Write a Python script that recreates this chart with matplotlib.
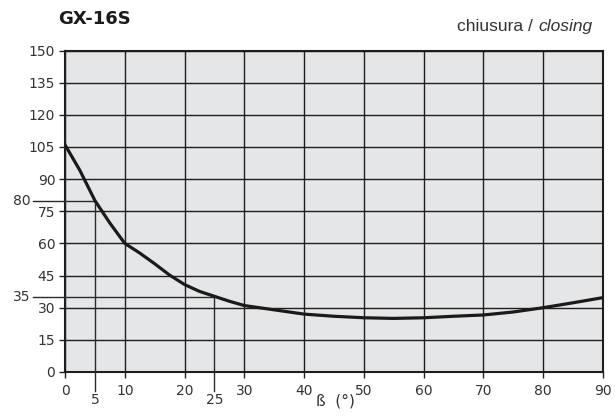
import matplotlib
matplotlib.use("Agg")
import matplotlib.pyplot as plt
from matplotlib import font_manager

# closing torque curve for GX-16S
beta = [0, 2.5, 5, 7.5, 10, 12.5, 15, 17.5, 20, 22.5, 25, 27.5, 30, 35, 40, 45,
        50, 55, 60, 65, 70, 75, 80, 85, 90]
torque = [106, 94, 80, 69.5, 60, 55.5, 50.5, 45.2, 40.8, 37.6, 35.3, 33, 31, 29, 27, 26,
          25.3, 25, 25.3, 26, 26.6, 28, 30, 32.3, 34.7]

# marked working points
ref_beta = [5, 25]
ref_torque = [80, 35]

x_ticks = list(range(0, 91, 10))
y_ticks = list(range(0, 151, 15))

names = {f.name for f in font_manager.fontManager.ttflist}
narrow = "Liberation Sans Narrow" if "Liberation Sans Narrow" in names else "Liberation Sans"

fig = plt.figure(figsize=(6.15, 4.16), dpi=100)
ax = fig.add_axes([0.1057, 0.1058, 0.8748, 0.7728])

ax.set_facecolor("#e5e6e8")
ax.set_xlim(0, 90)
ax.set_ylim(0, 150)
ax.set_xticks(x_ticks)
ax.set_yticks(y_ticks)
ax.grid(True, color="#1e1e1e", linewidth=1.0)
ax.set_axisbelow(True)
ax.tick_params(axis="both", colors="#222222", labelcolor="#333333",
               labelsize=10, length=4, width=1.0)
ax.tick_params(axis="x", pad=5)
ax.tick_params(axis="y", pad=3)
for s in ax.spines.values():
    s.set_linewidth(1.5)
    s.set_color("#1e1e1e")

# reference lines for the working points, running out past the axes
for bx, ty in zip(ref_beta, ref_torque):
    ax.plot([-5.4, bx], [ty, ty], color="#2a2a2a", lw=1.0, clip_on=False, zorder=3)
    ax.plot([bx, bx], [ty, -8.8], color="#2a2a2a", lw=1.0, clip_on=False, zorder=3)
    ax.text(bx, -9.6, str(bx), ha="center", va="top", fontsize=10, color="#333333")
    ax.text(-5.8, ty, str(ty), ha="right", va="center", fontsize=10, color="#333333")

ax.plot(beta, torque, color="#1a1a1a", lw=2.3, zorder=4, solid_joinstyle="round")

fig.text(0.545, 0.018, "ß  (°)", ha="center", va="bottom", fontsize=11, color="#333333")
fig.text(0.094, 0.955, "GX-16S", ha="left", va="center", fontsize=13, fontweight="bold",
         color="#1a1a1a")

# header on the right: italian plain, english italic
t_en = fig.text(0.963, 0.937, "closing", ha="right", va="center", fontsize=12.5,
                style="italic", family=[narrow, "DejaVu Sans"], color="#333333")
fig.canvas.draw()
bb = t_en.get_window_extent()
x_left = fig.transFigure.inverted().transform((bb.x0, bb.y0))[0]
fig.text(x_left, 0.937, "chiusura / ", ha="right", va="center", fontsize=12.5,
         family=[narrow, "DejaVu Sans"], color="#333333")

fig.savefig("out.png", dpi=100)
